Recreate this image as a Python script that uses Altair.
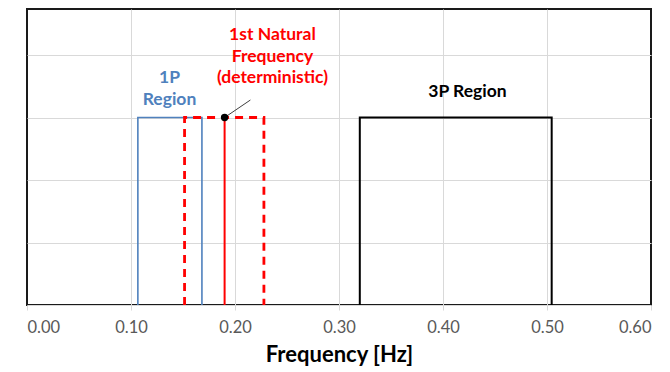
import altair as alt
import pandas as pd

# ---- data ----
p1_x = [0.1066, 0.1066, 0.1682, 0.1682]
p1_y = [0.0, 0.75, 0.75, 0.0]
nat_band_x = [0.1515, 0.1515, 0.2278, 0.2278]
nat_band_y = [0.0, 0.75, 0.75, 0.0]
nat_x = [0.19, 0.19]
nat_y = [0.0, 0.75]
p3_x = [0.320, 0.320, 0.5045, 0.5045]
p3_y = [0.0, 0.75, 0.75, 0.0]
leader_x = [0.19, 0.2148]
leader_y = [0.75, 0.82]

label_text = [["1P", "Region"], ["1st Natural", "Frequency", "(deterministic)"], ["3P Region"]]
label_x = [0.137, 0.236, 0.4235]
label_y = [0.908, 1.08, 0.852]
label_color = ["#4F81BD", "#FF0000", "#000000"]

x_ticks = [0.0, 0.1, 0.2, 0.3, 0.4, 0.5, 0.6]
y_grid = [0.0, 0.25, 0.5, 0.75, 1.0]

W, H = 624, 296
FONT = "Lato"

def path_df(xs, ys):
    return pd.DataFrame({"x": xs, "y": ys, "o": list(range(len(xs)))})

xs = alt.Scale(domain=[0, 0.6], nice=False, zero=False)
ys = alt.Scale(domain=[0, 1.184], nice=False, zero=False)

x_enc = alt.X("x:Q", scale=xs, axis=alt.Axis(
    values=x_ticks, format=".2f", title="Frequency [Hz]",
    grid=True, gridColor="#d9d9d9", gridWidth=1,
    gridOpacity={"condition": {"test": "datum.value <= 0 || datum.value >= 0.6", "value": 0}, "value": 1},
    domainColor="#d9d9d9", domainWidth=1,
    tickColor="#d9d9d9", tickSize=5,
    labelColor="#595959", labelFont=FONT, labelFontSize=16.5, labelPadding=9,
    titleFont=FONT, titleFontSize=22, titleFontWeight="bold", titleColor="#000000",
    titlePadding=9))
y_enc = alt.Y("y:Q", scale=ys, axis=alt.Axis(
    values=y_grid, grid=True, gridColor="#d9d9d9", labels=False, ticks=False,
    gridOpacity={"condition": {"test": "datum.value <= 0", "value": 0}, "value": 1},
    domain=False, title=None))

def line(xs_, ys_, color, width, dash=None):
    props = dict(color=color, strokeWidth=width, clip=False)
    if dash:
        props["strokeDash"] = dash
    return alt.Chart(path_df(xs_, ys_)).mark_line(**props).encode(
        x=x_enc, y=y_enc, order="o:Q")

base = alt.Chart(pd.DataFrame({"x": [0.0], "y": [0.0]})).mark_point(opacity=0).encode(x=x_enc, y=y_enc)

layers = [
    base,
    line(p1_x, p1_y, "#4F81BD", 1.6),
    line(p3_x, p3_y, "#000000", 2),
    line(nat_band_x, nat_band_y, "#FF0000", 2.8, [8, 6]),
    line(nat_x, nat_y, "#FF0000", 2),
    line(leader_x, leader_y, "#404040", 1),
    alt.Chart(pd.DataFrame({"x": [nat_x[1]], "y": [nat_y[1]]})).mark_circle(
        color="#000000", size=55, opacity=1).encode(x="x:Q", y="y:Q"),
]

for t, lx, ly, c in zip(label_text, label_x, label_y, label_color):
    layers.append(
        alt.Chart(pd.DataFrame({"x": [lx], "y": [ly], "t": [t]})).mark_text(
            font=FONT, fontSize=17.5, fontWeight="bold", color=c,
            align="center", baseline="middle", lineHeight=21.5
        ).encode(x="x:Q", y="y:Q", text="t")
    )

chart = alt.layer(*layers).properties(
    width=W, height=H,
    autosize=alt.AutoSizeParams(type="none"),
    padding={"left": 19, "top": 1, "right": 10, "bottom": 64},
    background="white",
).configure_view(stroke="#1a1a1a", strokeWidth=2)

chart.save("out.html", embed_options={"renderer": "svg", "actions": False})
